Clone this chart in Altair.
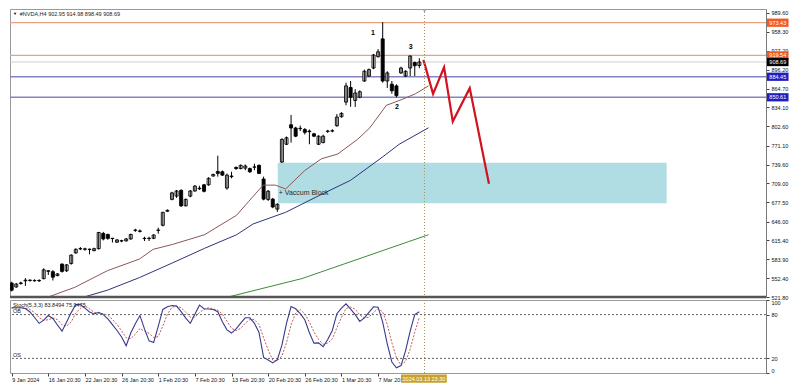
import altair as alt
import pandas as pd

FONT = "Liberation Sans"

# ---------------- data ----------------
OPEN = [544.7, 538.3, 544.0, 548.5, 549.0, 548.5, 549.0, 552.0, 564.0, 563.5,
        557.0, 576.0, 565.0, 577.0, 594.4, 601.0, 601.0, 600.0, 598.2, 601.4,
        626.5, 624.8, 618.0, 612.0, 614.0, 614.2, 617.4, 631.5, 630.5, 618.0,
        618.5, 618.4, 631.5, 639.9, 663.0, 682.5, 687.9, 697.5, 671.9, 687.9,
        696.4, 700.0, 706.5, 706.5, 721.0, 728.5, 728.0, 701.2, 720.0, 735.0,
        733.3, 734.0, 733.3, 735.5, 738.6, 716.0, 682.5, 683.0, 666.5, 744.0,
        773.3, 805.4, 800.1, 799.0, 797.5, 795.0, 790.5, 773.3, 776.0, 794.5,
        795.0, 803.8, 818.7, 842.7, 866.7, 845.4, 850.7, 877.4, 885.5, 898.8,
        917.5, 946.8, 877.4, 872.2, 869.4, 890.8, 885.5, 898.8, 907.9, 902.95]
HIGH = [547, 545, 547, 553, 551, 551, 551, 569, 566, 566,
        561, 577, 576, 592, 602, 604, 603, 601.5, 603, 629,
        629, 626, 619, 617, 616, 619, 626, 634, 633, 621,
        621, 625, 636, 662, 666, 695, 698, 699, 684, 698,
        706, 705, 708, 719, 725, 754.5, 730, 725, 728, 737,
        740, 740, 735, 741.3, 740, 720, 698, 685, 676, 783,
        786, 821.4, 802, 804, 800, 797.6, 792, 788, 789, 797,
        798, 823, 826, 874.7, 877.4, 864, 862, 896, 898, 922,
        930, 974.5, 893.5, 877.4, 872, 901, 895, 919.5, 909.5, 914.98]
LOW = [531, 537, 542, 540, 547, 547, 546.5, 551, 558, 549,
       556, 562, 563, 575, 593, 599, 598, 592, 597, 600,
       615, 616, 611.5, 611, 612, 613, 616, 629, 628, 614,
       614, 617, 626, 638, 662, 681, 685, 670, 671, 686,
       695, 698, 694, 705, 720, 720, 721, 698.5, 717.2, 731,
       732, 730.6, 726, 730.6, 724, 681, 680, 668, 662, 742.5,
       772, 776, 785, 795, 789.3, 773.3, 785, 772, 775, 792,
       793, 802, 817, 837.4, 835, 834.7, 849, 876, 884, 897,
       916, 874.7, 866, 856.6, 850.5, 889, 884, 885.5, 885.5, 898.49]
CLOSE = [533.0, 543.0, 545.0, 549.5, 549.5, 549.0, 548.5, 566.5, 565.0, 554.5,
         559.8, 564.0, 574.7, 590.7, 600.3, 601.5, 600.5, 600.5, 601.4, 628.0,
         617.4, 618.4, 618.5, 615.8, 614.5, 617.4, 624.8, 632.0, 630.0, 618.5,
         618.0, 623.9, 632.0, 661.2, 664.5, 693.2, 696.4, 671.9, 682.5, 696.4,
         704.4, 701.0, 695.9, 717.2, 723.5, 725.3, 722.5, 722.5, 721.0, 733.3,
         738.6, 737.5, 728.0, 736.0, 725.3, 683.0, 695.9, 670.0, 674.5, 781.3,
         784.0, 800.1, 786.6, 799.5, 793.0, 794.0, 786.6, 786.6, 786.6, 795.0,
         795.5, 818.0, 824.1, 869.4, 850.7, 857.7, 859.8, 893.5, 896.2, 920.2,
         925.5, 877.4, 890.8, 861.4, 853.4, 898.8, 893.5, 918.5, 902.6, 908.69]

STOCH_K = [89.3, 89.3, 89.3, 88.4, 83.6, 76.0, 68.0, 72.4, 78.7, 74.7,
           65.8, 57.3, 69.8, 82.7, 93.8, 93.8, 88.9, 83.6, 80.9, 83.1,
           80.0, 74.2, 66.2, 58.2, 49.3, 37.3, 54.7, 67.6, 78.7, 60.4,
           44.0, 41.8, 64.0, 87.1, 90.7, 92.4, 91.6, 84.0, 75.1, 68.0,
           80.4, 92.9, 88.0, 87.6, 87.1, 84.0, 70.2, 59.1, 54.7, 60.4,
           68.4, 75.6, 75.6, 68.0, 55.6, 21.3, 17.8, 13.8, 18.2, 38.2,
           68.0, 91.1, 88.0, 81.3, 72.9, 55.1, 40.9, 41.3, 36.0, 45.8,
           58.2, 81.3, 88.9, 94.7, 87.6, 80.0, 70.7, 75.6, 83.1, 90.7,
           90.2, 69.8, 40.0, 15.1, 7.1, 10.2, 30.7, 57.3, 80.0, 83.8]
STOCH_D = [89.0, 89.0, 89.3, 89.0, 87.1, 82.7, 75.9, 72.1, 73.0, 75.3,
           73.1, 65.9, 64.3, 69.9, 82.1, 88.5, 91.8, 87.9, 83.1, 81.7,
           81.3, 79.1, 73.5, 66.2, 57.9, 48.3, 47.1, 53.2, 60.9, 57.3,
           54.4, 48.7, 49.9, 64.3, 80.6, 90.1, 91.6, 89.3, 83.6, 76.5,
           76.6, 82.8, 87.1, 89.5, 87.6, 86.2, 80.4, 71.1, 61.3, 58.1,
           61.2, 68.1, 73.2, 73.1, 66.4, 48.3, 31.6, 17.6, 16.6, 23.4,
           41.5, 65.8, 82.4, 86.8, 81.1, 69.8, 56.3, 45.8, 39.4, 41.0,
           46.7, 61.8, 76.1, 88.3, 90.4, 87.4, 79.4, 75.4, 76.5, 83.1,
           88.0, 83.6, 66.7, 41.6, 20.7, 10.8, 16.0, 32.7, 56.0, 75.9]

MA_FAST_I = [7.4, 13.8, 20.9, 27.9, 30.9, 35.1, 42.1, 49.1, 51.7, 54.9, 57.6,
             59.8, 64.0, 67.6, 71.2, 75.5, 78.2, 81.8, 85.2, 88.2, 91.0]
MA_FAST_V = [520.2, 537.8, 565.1, 584.3, 600.3, 608.3, 624.3, 656.4, 678.8, 706.0, 706.0,
             699.6, 730.1, 749.3, 757.3, 781.3, 800.4, 837.4, 847.0, 856.6, 869.4]
MA_MID_I = [15.1, 20.9, 27.9, 35.1, 42.1, 49.1, 52.7, 59.8, 67.0, 74.0, 81.0, 84.6, 91.0]
MA_MID_V = [520.2, 533.0, 553.8, 577.9, 601.9, 624.3, 642.0, 661.2, 688.4, 714.0, 752.5, 773.3, 800.4]
MA_SLOW_I = [46.4, 63.4, 86.7, 91.0]
MA_SLOW_V = [520.2, 552.2, 613.1, 624.3]

ZIG_I = [89.9, 92.0, 94.4, 96.3, 100.0, 104.2]
ZIG_P = [912.2, 856.2, 899.9, 810.6, 865.7, 708.2]

BLOCK_I = [58.1, 143.0]
BLOCK_P = [676.1, 742.9]

LEVELS = [973.43, 919.54, 908.69, 884.45, 850.61]
LEVEL_LINE = ["#eaa27c", "#eaa27c", "#cfcfcf", "#8484c4", "#8484c4"]
LEVEL_TAG = ["#f15a24", "#f15a24", "#000000", "#1f1fbf", "#1f1fbf"]
LEVEL_W = [1.3, 1.3, 1.0, 1.6, 1.6]

PRICE_TICKS = [989.60, 958.30, 927.20, 896.20, 864.70, 834.10, 802.60, 771.10,
               739.60, 709.00, 677.50, 646.00, 615.40, 583.90, 552.40, 521.80]
TIME_LABELS = ["9 Jan 2024", "16 Jan 20:30", "22 Jan 20:30", "26 Jan 20:30",
               "1 Feb 20:30", "7 Feb 20:30", "13 Feb 20:30", "20 Feb 20:30",
               "26 Feb 20:30", "1 Mar 20:30", "7 Mar 20:30"]
TIME_IDX = [0, 8, 16, 24, 32, 40, 48, 56, 64, 72, 80]

WAVE_LABELS = ["1", "2", "3"]
WAVE_I = [78.9, 84.1, 87.1]
WAVE_P = [955.9, 834.7, 933.5]

CURSOR_I = 90.13
CURSOR_TEXT = "2024.03.13 23:30"
TITLE = "#NVDA,H4  902.95 914.98 898.49 908.69"
STOCH_TITLE = "Stoch(5,3,3) 83.8494 75.9475"

# ---------------- layout ----------------
W = 756
H_MAIN = 288
H_STO = 73
X_DOM = [-0.361, 164.68]
Y_DOM = [521.8, 996.0]
FS = 5.5

xs = alt.Scale(domain=X_DOM, nice=False, zero=False)
ys = alt.Scale(domain=Y_DOM, nice=False, zero=False)
ss = alt.Scale(domain=[0, 100], nice=False, zero=False)

y_axis = alt.Axis(orient="right", values=PRICE_TICKS, format=".2f", title=None,
                  tickSize=3, labelPadding=2, grid=False, labelOverlap=False,
                  domainColor="#7a7a7a", tickColor="#404040")
label_expr = "[" + ",".join(f"'{t}'" for t in TIME_LABELS) + "][round(datum.value / 8)]"
x_axis = alt.Axis(values=TIME_IDX, labelExpr=label_expr, labelAlign="left", title=None,
                  tickSize=3, labelPadding=1, grid=False, domain=False, labelFlush=False,
                  labelOverlap=False, tickColor="#404040")
s_axis = alt.Axis(orient="right", values=[0, 20, 80, 100], format="d", title=None,
                  tickSize=3, labelPadding=2, grid=False, labelOverlap=False, labelFlush=True,
                  domainColor="#7a7a7a", tickColor="#404040")


def X(f):
    return alt.X(f, type="quantitative", scale=xs, axis=None)


def Y(f):
    return alt.Y(f, type="quantitative", scale=ys, axis=y_axis)


def XS(f):
    return alt.X(f, type="quantitative", scale=xs, axis=x_axis)


def S(f):
    return alt.Y(f, type="quantitative", scale=ss, axis=s_axis)


# candles
bars = pd.DataFrame({"i": list(range(len(OPEN))), "o": OPEN, "h": HIGH, "l": LOW, "c": CLOSE})
bars["top"] = bars[["o", "c"]].max(axis=1)
bars["bot"] = bars[["o", "c"]].min(axis=1)
bars["x1"] = bars["i"] - 0.33
bars["x2"] = bars["i"] + 0.33
bars["fillc"] = ["#ffffff" if c >= o else "#000000" for o, c in zip(OPEN, CLOSE)]

levels = pd.DataFrame({"v": LEVELS, "lc": LEVEL_LINE, "tc": LEVEL_TAG, "w": LEVEL_W,
                       "txt": [f"{v:.2f}" for v in LEVELS]})
levels["y0"] = levels["v"] - 6.8
levels["y1"] = levels["v"] + 6.8
levels["x0"] = 164.9
levels["x1"] = 169.6
levels["xm"] = 167.25

block = alt.Chart(pd.DataFrame({"a": [BLOCK_I[0]], "b": [BLOCK_I[1]],
                                "p0": [BLOCK_P[0]], "p1": [BLOCK_P[1]]})).mark_rect(
    color="#b0dde4").encode(x=X("a"), x2="b", y=Y("p0"), y2="p1")

level_lines = alt.Chart(levels).mark_rule().encode(
    y=Y("v"), color=alt.Color("lc:N", scale=None),
    strokeWidth=alt.StrokeWidth("w:Q", scale=None))

wicks = alt.Chart(bars).mark_rule(color="black", strokeWidth=1, clip=True).encode(
    x=X("i"), y=Y("l"), y2="h")
bodies = alt.Chart(bars).mark_rect(stroke="black", strokeWidth=0.9, clip=True).encode(
    x=X("x1"), x2="x2", y=Y("top"), y2="bot", fill=alt.Fill("fillc:N", scale=None))

ma = pd.concat([
    pd.DataFrame({"i": MA_FAST_I, "v": MA_FAST_V, "ma": "fast"}),
    pd.DataFrame({"i": MA_MID_I, "v": MA_MID_V, "ma": "mid"}),
    pd.DataFrame({"i": MA_SLOW_I, "v": MA_SLOW_V, "ma": "slow"}),
])
ma_lines = alt.Chart(ma).mark_line(strokeWidth=1, clip=True).encode(
    x=X("i"), y=Y("v"),
    color=alt.Color("ma:N", scale=alt.Scale(domain=["fast", "mid", "slow"],
                                            range=["#8a5858", "#2e3478", "#3f8a3a"]), legend=None))

zig = alt.Chart(pd.DataFrame({"i": ZIG_I, "p": ZIG_P})).mark_line(
    color="#d2121f", strokeWidth=2.2).encode(x=X("i"), y=Y("p"))

cursor_main = alt.Chart(pd.DataFrame({"i": [CURSOR_I]})).mark_rule(
    color="#a8925a", strokeDash=[1, 2], strokeWidth=1).encode(x=X("i"))
cursor_tri = alt.Chart(pd.DataFrame({"i": [CURSOR_I], "p": [993.0]})).mark_point(
    shape="triangle-down", filled=True, color="#a0a0a0", size=14, opacity=1).encode(x=X("i"), y=Y("p"))

sep = alt.Chart(pd.DataFrame({"v": [Y_DOM[0]]})).mark_rule(
    color="#555555", strokeWidth=2.5).encode(y=Y("v"))

waves = alt.Chart(pd.DataFrame({"t": WAVE_LABELS, "i": WAVE_I, "p": WAVE_P})).mark_text(
    fontSize=7, fontWeight="bold", color="black").encode(x=X("i"), y=Y("p"), text="t:N")

block_txt = alt.Chart(pd.DataFrame({"t": ["+ Vaccum Block"], "i": [58.3], "p": [693.2]})).mark_text(
    fontSize=7, align="left", baseline="middle", color="#2a2a2a").encode(x=X("i"), y=Y("p"), text="t:N")

title_txt = alt.Chart(pd.DataFrame({"t": [TITLE], "i": [1.76], "p": [988.0]})).mark_text(
    fontSize=FS, align="left", baseline="middle", color="#1a1a1a").encode(x=X("i"), y=Y("p"), text="t:N")
title_tri = alt.Chart(pd.DataFrame({"i": [0.75], "p": [988.0]})).mark_point(
    shape="triangle-down", filled=True, color="#222222", size=8, opacity=1).encode(x=X("i"), y=Y("p"))

tag_rects = alt.Chart(levels).mark_rect(clip=False).encode(
    x=X("x0"), x2="x1", y=Y("y0"), y2="y1", color=alt.Color("tc:N", scale=None))
tag_txt = alt.Chart(levels).mark_text(fontSize=FS, color="white", baseline="middle", clip=False).encode(
    x=X("xm"), y=Y("v"), text="txt:N")

main = alt.layer(block, level_lines, bodies, wicks, ma_lines, zig, cursor_main, cursor_tri,
                 sep, waves, block_txt, title_txt, title_tri, tag_rects, tag_txt).properties(
    width=W, height=H_MAIN)

# ---------------- stochastic panel ----------------
sto = pd.DataFrame({"i": list(range(len(STOCH_K))), "k": STOCH_K, "d": STOCH_D})

s_levels = alt.Chart(pd.DataFrame({"v": [80, 20]})).mark_rule(
    color="#3a3a3a", strokeDash=[2, 2], strokeWidth=0.8).encode(y=S("v"))
s_d = alt.Chart(sto).mark_line(color="#c25a5a", strokeDash=[2, 1.5], strokeWidth=1).encode(x=XS("i"), y=S("d"))
s_k = alt.Chart(sto).mark_line(color="#3a3a8c", strokeWidth=1.1).encode(x=XS("i"), y=S("k"))
cursor_s = alt.Chart(pd.DataFrame({"i": [CURSOR_I]})).mark_rule(
    color="#a8925a", strokeDash=[1, 2], strokeWidth=1).encode(x=XS("i"))
s_texts = alt.Chart(pd.DataFrame({"t": [STOCH_TITLE, "OB", "OS"], "i": [0.28, 0.28, 0.28],
                                  "v": [93.3, 84.4, 24.4]})).mark_text(
    fontSize=FS, align="left", baseline="middle", color="#1a1a1a").encode(x=XS("i"), y=S("v"), text="t:N")
gold = alt.Chart(pd.DataFrame({"a": [85.0], "b": [95.0], "v0": [-2.0], "v1": [-13.5]})).mark_rect(
    color="#c9a12a", clip=False).encode(x=XS("a"), x2="b", y=S("v0"), y2="v1")
gold_txt = alt.Chart(pd.DataFrame({"t": [CURSOR_TEXT], "i": [90.0], "v": [-7.8]})).mark_text(
    fontSize=FS, color="white", baseline="middle", clip=False).encode(x=XS("i"), y=S("v"), text="t:N")

stoch = alt.layer(s_levels, s_d, s_k, cursor_s, s_texts, gold, gold_txt).properties(
    width=W, height=H_STO)

chart = alt.vconcat(main, stoch, spacing=3, bounds="flush").properties(padding=0).configure_view(
    stroke="#9a9a9a", strokeWidth=1).configure_axis(
    labelFont=FONT, labelFontSize=FS, labelColor="#111111").configure_text(font=FONT)

chart.save("out.html", embed_options={"renderer": "svg", "actions": False})
